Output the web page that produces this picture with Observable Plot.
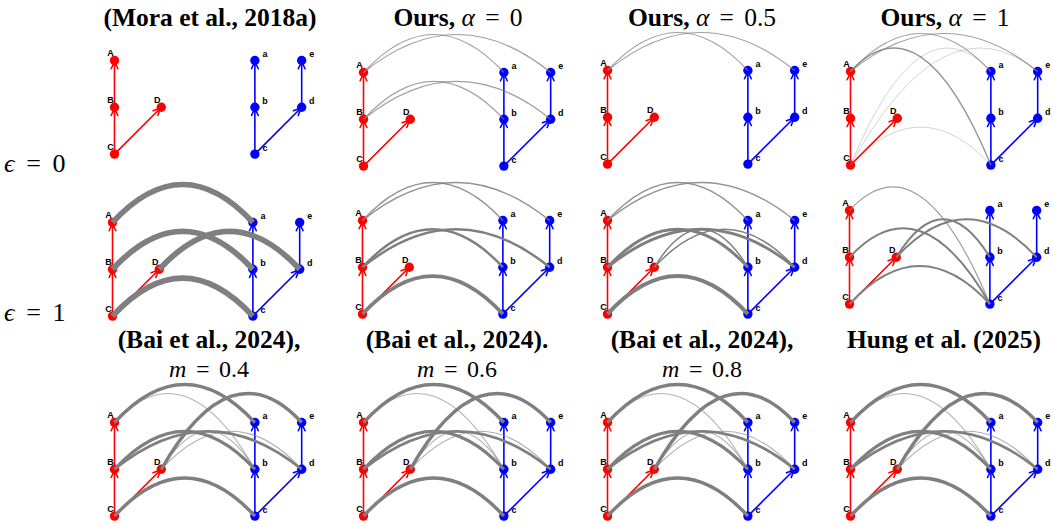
<!DOCTYPE html>
<html><head><meta charset="utf-8">
<script src="https://cdn.jsdelivr.net/npm/d3@7"></script>
<script src="https://cdn.jsdelivr.net/npm/@observablehq/plot@0.6"></script>
<style>
body{margin:0;background:#fff;}
#fig{position:relative;width:1053px;height:527px;overflow:hidden;background:#fff;}
.panel{position:absolute;}
.panel svg{overflow:visible;background:transparent;max-width:none !important;}
#overlay{position:absolute;left:0;top:0;pointer-events:none;}
</style></head><body><div id="fig"></div>
<script>
// ---------- data ----------
const redNodes = ["A", "B", "C", "D"];
const blueNodes = ["a", "b", "c", "d", "e"];
const nodeX = {A: 0, B: 0, C: 0, D: 1, a: 3, b: 3, c: 3, d: 4, e: 4};
const nodeY = {A: 2, B: 1, C: 0, D: 1, a: 2, b: 1, c: 0, d: 1, e: 2};
const redEdges = [["C", "B"], ["B", "A"], ["C", "D"]];
const blueEdges = [["c", "b"], ["b", "a"], ["c", "d"], ["d", "e"]];

// couplings: [source, target, mass]
const moraEps0 = [];
const oursA0Eps0 = [["A","a",0.1],["A","e",0.1],["B","b",0.1],["B","d",0.1]];
const oursA05Eps0 = [["A","a",0.1],["A","e",0.1]];
const oursA1Eps0 = [["C","a",0.03],["C","e",0.03],["C","c",0.03],["A","a",0.1],["A","e",0.1],["A","c",0.12]];
const moraEps1 = [["A","a",1],["B","b",1],["D","d",1],["C","c",1]];
const oursA0Eps1 = [["A","a",0.12],["A","e",0.12],["B","b",0.35],["B","d",0.35],["C","c",0.6]];
const oursA05Eps1 = [["A","a",0.12],["A","e",0.12],["B","b",0.45],["B","d",0.45],["D","b",0.15],["D","d",0.15],["C","c",0.65]];
const oursA1Eps1 = [["A","c",0.1],["B","c",0.25],["C","c",0.25],["D","b",0.25],["D","d",0.25]];
const baiM04 = [["A","a",0.55],["A","b",0.07],["D","e",0.55],["B","b",0.5],["B","d",0.4],["D","b",0.08],["D","d",0.08],["C","c",0.55]];
const baiM06 = [["A","a",0.55],["A","b",0.07],["D","e",0.55],["B","b",0.5],["B","d",0.4],["D","b",0.08],["D","d",0.08],["C","c",0.55]];
const baiM08 = [["A","a",0.55],["A","b",0.07],["D","e",0.55],["B","b",0.5],["B","d",0.4],["D","b",0.08],["D","d",0.08],["C","c",0.55]];
const hung2025 = [["A","a",0.55],["A","b",0.07],["D","e",0.55],["B","b",0.5],["B","d",0.4],["D","b",0.08],["D","d",0.08],["C","c",0.55]];

const couplings = [moraEps0, oursA0Eps0, oursA05Eps0, oursA1Eps0,
                   moraEps1, oursA0Eps1, oursA05Eps1, oursA1Eps1,
                   baiM04, baiM06, baiM08, hung2025];

const rowLabels = ["0", "1"];

// ---------- layout ----------
const U = 46.8, padL = 30, padT = 60;
const anchors = [[114,60],[363,72],[607,70],[850,71],
                 [112,222],[362,220],[607,220],[849,210],
                 [114,422],[363,422],[607,422],[850,422]];
const H_ARC = 76;

function arcCurve(context) {
  let p = [];
  return {
    areaStart() {}, areaEnd() {},
    lineStart() { p = []; },
    point(x, y) { p.push([+x, +y]); },
    lineEnd() {
      if (p.length < 2) return;
      const [x0, y0] = p[0], [x1, y1] = p[p.length - 1];
      context.moveTo(x0, y0);
      context.quadraticCurveTo((x0 + x1) / 2, Math.min(y0, y1) - H_ARC, x1, y1);
    }
  };
}

const fig = document.getElementById("fig");
const labelFont = "Liberation Sans, Arial, Helvetica, sans-serif";
const allNodes = redNodes.map(n => ({n, g: "red"})).concat(blueNodes.map(n => ({n, g: "blue"})));
const intra = redEdges.map(e => ({e, g: "red"})).concat(blueEdges.map(e => ({e, g: "blue"})));
const PW = 4 * U + 2 * padL, PH = 2 * U + padT + 30;

couplings.forEach((cp, i) => {
  const [ax, ay] = anchors[i];
  const chart = Plot.plot({
    width: PW, height: PH,
    margin: 0,
    x: {domain: [0, 4], range: [padL, padL + 4 * U], axis: null},
    y: {domain: [0, 2], range: [padT + 2 * U, padT], axis: null},
    style: {background: "transparent", overflow: "visible", maxWidth: "none"},
    marks: [
      Plot.arrow(intra, {
        x1: d => nodeX[d.e[0]], y1: d => nodeY[d.e[0]],
        x2: d => nodeX[d.e[1]], y2: d => nodeY[d.e[1]],
        stroke: d => d.g === "red" ? "#ff0000" : "#0000ff",
        strokeWidth: 1.6, headLength: 7.5, headAngle: 50, insetEnd: 1
      }),
      Plot.dot(allNodes, {
        x: d => nodeX[d.n], y: d => nodeY[d.n], r: 4.7,
        fill: d => d.g === "red" ? "#ff0000" : "#0000ff", stroke: "none"
      }),
      Plot.link(cp, {
        x1: d => nodeX[d[0]], y1: d => nodeY[d[0]],
        x2: d => nodeX[d[1]], y2: d => nodeY[d[1]],
        curve: arcCurve, stroke: "#7f7f7f",
        strokeWidth: d => 0.7 + 5 * d[2],
        strokeOpacity: d => Math.min(1, 0.25 + 5 * d[2]),
        strokeLinecap: "butt"
      }),
      Plot.text(allNodes.filter(d => d.g === "red"), {
        x: d => nodeX[d.n], y: d => nodeY[d.n], text: "n",
        dx: -4, dy: -7, fontWeight: "bold", fontSize: 9, fontFamily: labelFont, fill: "black"
      }),
      Plot.text(allNodes.filter(d => d.g === "blue"), {
        x: d => nodeX[d.n], y: d => nodeY[d.n], text: "n",
        dx: 10, dy: -6, fontWeight: "bold", fontSize: 9, fontFamily: labelFont, fill: "black"
      })
    ]
  });
  const div = document.createElement("div");
  div.className = "panel";
  div.style.left = (ax - padL) + "px";
  div.style.top = (ay - padT) + "px";
  div.style.width = PW + "px";
  div.style.height = PH + "px";
  div.appendChild(chart);
  fig.appendChild(div);
});

// ---------- titles ----------
const titles = [
  {cx: 210, y: 26, lines: [[["(Mora et al., 2018a)", "b"]]]},
  {cx: 458, y: 26, lines: [[["Ours, ", "b"], ["α", "i"], ["=", "m"], ["0", "m"]]]},
  {cx: 702, y: 26, lines: [[["Ours, ", "b"], ["α", "i"], ["=", "m"], ["0.5", "m"]]]},
  {cx: 945, y: 26, lines: [[["Ours, ", "b"], ["α", "i"], ["=", "m"], ["1", "m"]]]},
  {cx: 209, y: 348, lines: [[["(Bai et al., 2024),", "b"]], [["m", "i"], ["=", "m"], ["0.4", "m"]]]},
  {cx: 457, y: 348, lines: [[["(Bai et al., 2024).", "b"]], [["m", "i"], ["=", "m"], ["0.6", "m"]]]},
  {cx: 702, y: 348, lines: [[["(Bai et al., 2024),", "b"]], [["m", "i"], ["=", "m"], ["0.8", "m"]]]},
  {cx: 944, y: 348, lines: [[["Hung et al. (2025)", "b"]]]}
];
const svg = d3.select(fig).append("svg").attr("id", "overlay")
  .attr("width", 1053).attr("height", 527);
const serif = "Liberation Serif, Times New Roman, serif";
titles.forEach(t => {
  t.lines.forEach((line, li) => {
    const txt = svg.append("text").attr("x", t.cx).attr("y", t.y + li * 28.5)
      .attr("text-anchor", "middle").attr("font-family", serif).attr("font-size", li ? 24 : 25.5);
    line.forEach(([s, k]) => {
      const ts = txt.append("tspan").text(s)
        .attr("font-weight", k === "b" ? "bold" : "normal")
        .attr("font-style", k === "i" ? "italic" : "normal");
      if (k === "m") ts.attr("dx", "0.4em");
    });
  });
});
rowLabels.forEach((v, i) => {
  const txt = svg.append("text").attr("x", 4).attr("y", [172, 321][i])
    .attr("font-family", serif).attr("font-size", 26);
  txt.append("tspan").text("ϵ").attr("font-style", "italic");
  txt.append("tspan").text("=").attr("dx", "0.45em");
  txt.append("tspan").text(v).attr("dx", "0.45em");
});
</script></body></html>
